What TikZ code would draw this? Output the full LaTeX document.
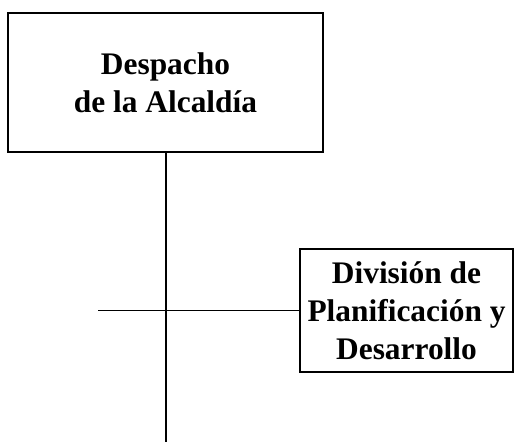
\documentclass[tikz,border=0pt]{standalone}
\usepackage{fontspec}
\setmainfont{Liberation Serif}
\tikzset{
  orgbox/.style={draw=black, line width=1.5pt, rectangle, align=center, inner sep=0pt,
    font=\bfseries\fontsize{31.4}{38}\selectfont},
  conn/.style={draw=black, line width=1.2pt}
}
\begin{document}
\begin{tikzpicture}[x=1pt,y=-1pt]
\useasboundingbox (0,0) rectangle (514,442);
\node[orgbox, minimum width=315pt, minimum height=139pt] (alc) at (165.5,82.5) {Despacho\\de la Alcaldía};
\node[orgbox, minimum width=213pt, minimum height=123pt] (div) at (406.5,310.5) {División de\\Planificación y\\Desarrollo};
\coordinate (bot) at (166,442);
\coordinate (lft) at (98,310.5);
\draw[conn] (alc.south -| bot) -- (bot);
\draw[conn] (lft) -- (div.west);
\end{tikzpicture}
\end{document}
